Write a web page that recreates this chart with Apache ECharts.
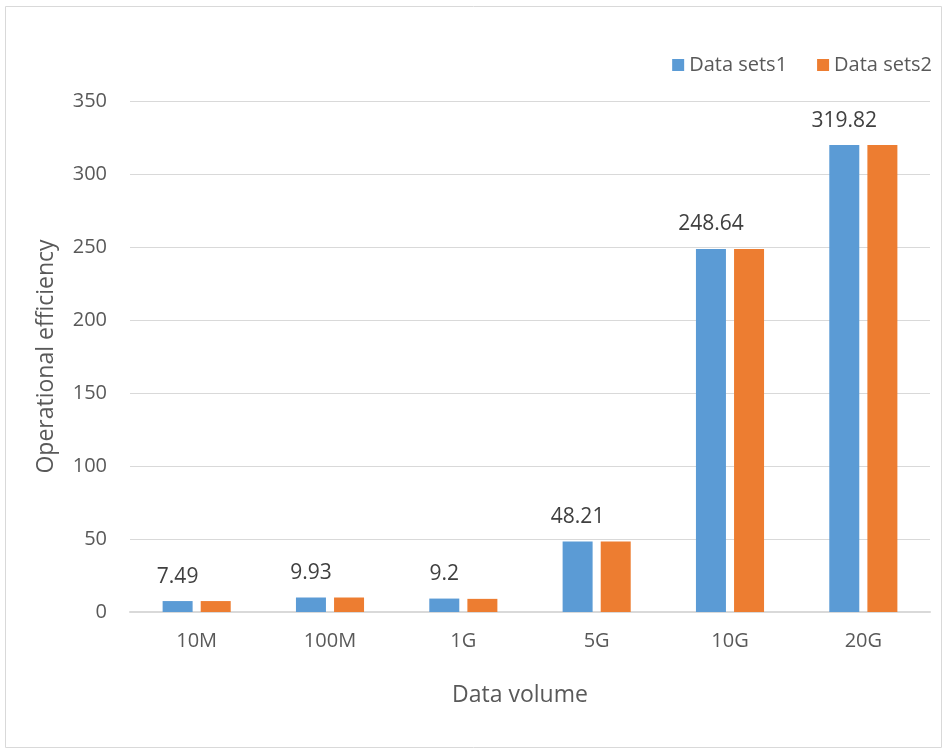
<!DOCTYPE html>
<html>
<head>
    <meta charset="utf-8">
    <title>Operational efficiency</title>
    <script src="https://cdn.jsdelivr.net/npm/echarts@6/dist/echarts.min.js"></script>
    <style type="text/css">
        html, body { margin: 0; padding: 0; background: #fff; }
        #main { width: 945px; height: 751px; }
    </style>
</head>
<body>
    <div id="main"></div>
    <script>
        var categories = ['10M', '100M', '1G', '5G', '10G', '20G'];
        var dataSets1 = [7.49, 9.93, 9.2, 48.21, 248.64, 319.82];
        var dataSets2 = [7.49, 9.93, 9.0, 48.21, 248.64, 319.82];
        var seriesNames = ['Data sets1', 'Data sets2'];

        var font = 'Open Sans';
        var chart = echarts.init(document.getElementById('main'));
        chart.setOption({
            textStyle: { fontFamily: font, color: '#595959' },
            graphic: [{
                type: 'rect',
                shape: { x: 5.5, y: 6.5, width: 936, height: 741 },
                style: { fill: 'none', stroke: '#d9d9d9', lineWidth: 1 }
            }],
            legend: {
                data: seriesNames,
                right: 8,
                top: 50,
                itemWidth: 12,
                itemHeight: 12,
                itemGap: 30,
                icon: 'rect',
                textStyle: { fontFamily: font, fontSize: 20, color: '#595959' }
            },
            grid: { left: 130, right: 15, top: 101, bottom: 139, containLabel: false },
            xAxis: {
                type: 'category',
                data: categories,
                name: 'Data volume',
                nameLocation: 'middle',
                nameGap: 72,
                nameTextStyle: { fontSize: 23, color: '#595959', padding: [0, 20, 0, 0] },
                axisLine: { lineStyle: { color: '#d9d9d9', width: 2 } },
                axisTick: { show: false },
                axisLabel: { fontSize: 20, color: '#595959', margin: 19 }
            },
            yAxis: {
                type: 'value',
                min: 0,
                max: 350,
                interval: 50,
                name: 'Operational efficiency',
                nameLocation: 'middle',
                nameGap: 72,
                nameTextStyle: { fontSize: 23, color: '#595959' },
                axisLine: { show: false },
                axisTick: { show: false },
                splitLine: { lineStyle: { color: '#d9d9d9', width: 1 } },
                axisLabel: { fontSize: 20, color: '#595959', margin: 23 }
            },
            series: [{
                name: seriesNames[0],
                type: 'bar',
                data: dataSets1,
                barWidth: 30,
                barGap: '27%',
                itemStyle: { color: '#5b9bd5' },
                label: {
                    show: true,
                    position: 'top',
                    offset: [0, -9],
                    fontSize: 21,
                    color: '#404040'
                }
            }, {
                name: seriesNames[1],
                type: 'bar',
                data: dataSets2,
                barWidth: 30,
                itemStyle: { color: '#ed7d31' }
            }]
        });
    </script>
</body>
</html>
